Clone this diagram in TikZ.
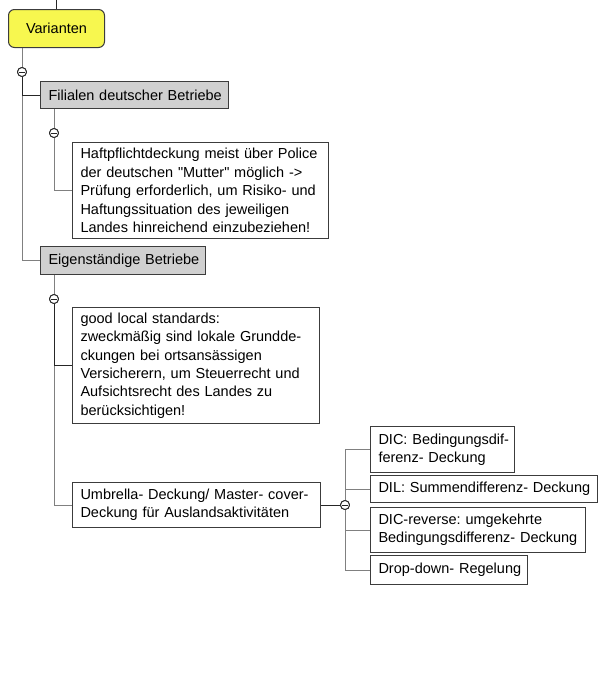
\documentclass[tikz,border=0pt]{standalone}
\usepackage{fontspec}
\setmainfont{Liberation Sans}[Ligatures=TeXOff]
\frenchspacing
\definecolor{bordergray}{HTML}{3C3C3C}
\definecolor{linegray}{HTML}{808080}
\definecolor{linedark}{HTML}{262626}
\definecolor{topicgray}{HTML}{D0D0D0}
\definecolor{vyellow}{HTML}{F7F74F}
\begin{document}
\begin{tikzpicture}[x=1pt,y=-1pt,
  txt/.style={font=\fontsize{14.5}{18.4}\selectfont, text=black},
  bx/.style={txt, draw=bordergray, fill=white, line width=1pt, anchor=north west,
    inner xsep=8pt, inner ysep=0pt, align=left},
  topic/.style={bx, fill=topicgray},
  root/.style={txt, draw=bordergray, fill=vyellow, line width=1pt, rounded corners=6pt,
    minimum width=96pt, minimum height=38pt, anchor=north west, inner sep=0pt},
  knob/.style={circle, draw=linedark, fill=white, line width=0.9pt, minimum size=9pt, inner sep=0pt,
    path picture={\draw[line width=0.8pt,linedark] ([xshift=-2.6pt]path picture bounding box.center) -- ([xshift=2.6pt]path picture bounding box.center);}},
  conn/.style={draw=linegray, line width=1pt},
  conndark/.style={draw=linedark, line width=1pt}]
\useasboundingbox (0,0) rectangle (602,675);

% root
\coordinate (top) at (56,0);
\node[root] (var) at (8,9) {Varianten};

% level 1
\node[topic, text width=172pt, minimum height=27pt] (fil) at (40,81) {\mbox{Filialen deutscher Betriebe}};
\node[topic, text width=149pt, minimum height=28pt] (eig) at (40,246) {\mbox{Eigenständige Betriebe}};

% level 2
\node[bx, text width=240pt, minimum height=96pt] (haft) at (72,142)
  {\mbox{Haftpflichtdeckung meist über Police}\\\mbox{der deutschen "Mutter" möglich ->}\\\mbox{Prüfung erforderlich, um Risiko- und}\\\mbox{Haftungssituation des jeweiligen}\\\mbox{Landes hinreichend einzubeziehen!}};
\node[bx, text width=231pt, minimum height=116pt] (good) at (72,307)
  {\mbox{good local standards:}\\\mbox{zweckmäßig sind lokale Grundde-}\\\mbox{ckungen bei ortsansässigen}\\\mbox{Versicherern, um Steuerrecht und}\\\mbox{Aufsichtsrecht des Landes zu}\\\mbox{berücksichtigen!}};
\node[bx, text width=232pt, minimum height=45pt] (umb) at (72,482)
  {\mbox{Umbrella- Deckung/ Master- cover-}\\\mbox{Deckung für Auslandsaktivitäten}};

% level 3
\node[bx, text width=128pt, minimum height=46pt] (dic) at (370,426)
  {\mbox{DIC: Bedingungsdif-}\\\mbox{ferenz- Deckung}};
\node[bx, text width=211pt, minimum height=27pt] (dil) at (370,475)
  {\mbox{DIL: Summendifferenz- Deckung}};
\node[bx, text width=199pt, minimum height=45pt] (dicr) at (370,507)
  {\mbox{DIC-reverse: umgekehrte}\\\mbox{Bedingungsdifferenz- Deckung}};
\node[bx, text width=141pt, minimum height=29pt] (drop) at (370,555)
  {\mbox{Drop-down- Regelung}};

% knobs
\node[knob] (k1) at (22,72) {};
\node[knob] (k2) at (54,133) {};
\node[knob] (k3) at (54,299) {};
\node[knob] (k4) at (345,505) {};

% connectors
\draw[conndark] (top) -- (var.north -| top);
\draw[conn] (var.south -| k1) -- (k1);
\draw[conn] (k1) |- (eig.west);
\draw[conndark] (k1) |- (fil.west);

\draw[conn] (fil.south -| k2) -- (k2);
\draw[conn] (k2) |- (haft.west);

\draw[conn] (eig.south -| k3) -- (k3);
\draw[conn] (k3) |- (umb.west);
\draw[conndark] (k3) |- (good.west);

\draw[conndark] (umb.east) -- (k4);
\draw[conn] (k4) |- (dic.west);
\draw[conn] (k4) |- (dil.west);
\draw[conn] (k4) |- (dicr.west);
\draw[conn] (k4) |- (drop.west);
\node[knob] at (k4) {};
\node[knob] at (k1) {};
\node[knob] at (k3) {};
\node[knob] at (k2) {};
\end{tikzpicture}
\end{document}
